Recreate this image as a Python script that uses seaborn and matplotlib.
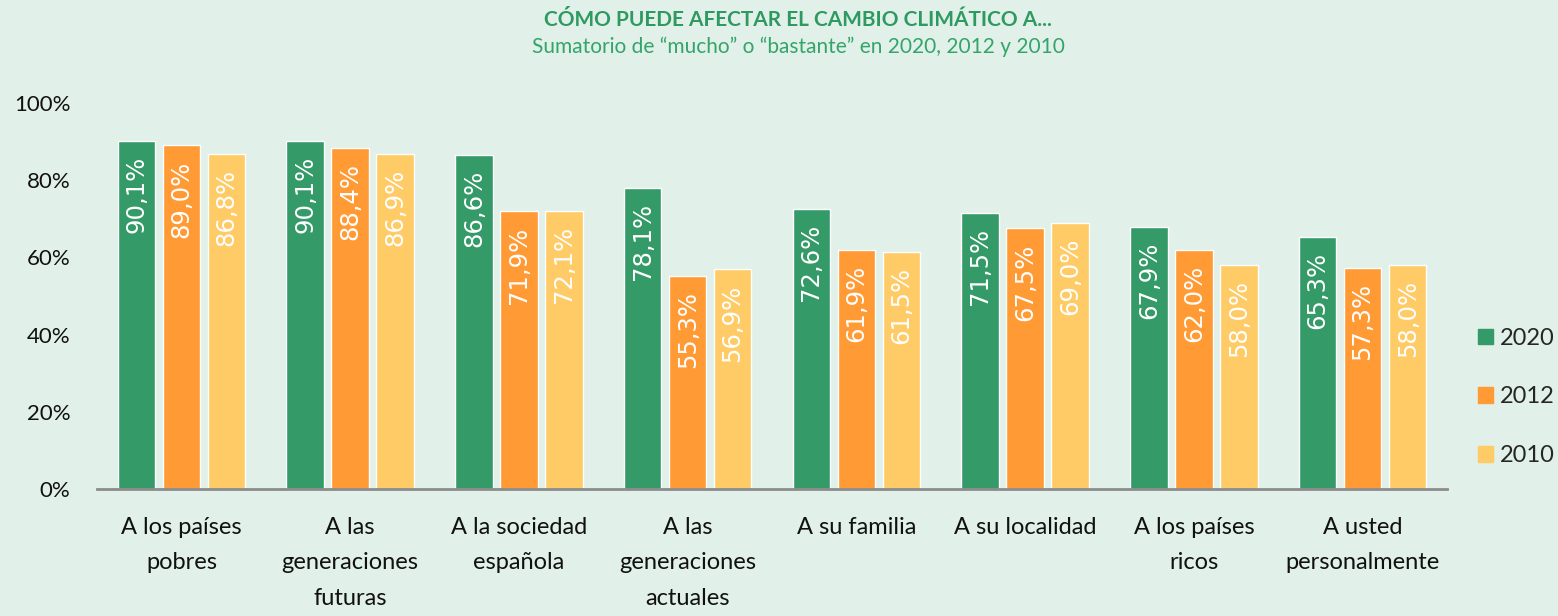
import pandas as pd
import matplotlib.pyplot as plt
import seaborn as sns

# Data
CATEGORIES = [
    "A los países\npobres",
    "A las\ngeneraciones\nfuturas",
    "A la sociedad\nespañola",
    "A las\ngeneraciones\nactuales",
    "A su familia",
    "A su localidad",
    "A los países\nricos",
    "A usted\npersonalmente",
]
YEARS = ["2020", "2012", "2010"]
VALUES_2020 = [90.1, 90.1, 86.6, 78.1, 72.6, 71.5, 67.9, 65.3]
VALUES_2012 = [89.0, 88.4, 71.9, 55.3, 61.9, 67.5, 62.0, 57.3]
VALUES_2010 = [86.8, 86.9, 72.1, 56.9, 61.5, 69.0, 58.0, 58.0]
Y_TICKS = [0, 20, 40, 60, 80, 100]

COLORS = {"2020": "#349A68", "2012": "#FF9A35", "2010": "#FFCB66"}
BG = "#E1F0E8"

df = pd.DataFrame({
    "categoria": CATEGORIES * 3,
    "year": [y for y in YEARS for _ in CATEGORIES],
    "valor": VALUES_2020 + VALUES_2012 + VALUES_2010,
})

sns.set_style("white")
plt.rcParams["font.family"] = ["Lato", "DejaVu Sans"]

fig = plt.figure(figsize=(15.58, 6.16), dpi=100, facecolor=BG)
ax = fig.add_axes([97 / 1558, 1 - 489 / 616, 1350 / 1558, 386 / 616])
ax.set_facecolor(BG)

sns.barplot(
    data=df, x="categoria", y="valor", hue="year", hue_order=YEARS,
    palette=COLORS, order=CATEGORIES, width=0.8, gap=0.17,
    saturation=1, ax=ax, legend=False,
)

# value labels, rotated, inside the top of each bar
for container in ax.containers:
    for bar in container:
        h = bar.get_height()
        ax.annotate(
            f"{h:.1f}%".replace(".", ","),
            (bar.get_x() + bar.get_width() / 2, h),
            xytext=(0, -15), textcoords="offset pixels",
            rotation=90, ha="center", va="top", color="white",
            fontsize=17.5, family="DejaVu Sans",
        )

ax.set_xlim(-0.5, len(CATEGORIES) - 0.5)
ax.set_ylim(0, 100)
ax.set_yticks(Y_TICKS)
ax.set_yticklabels([f"{t}%" for t in Y_TICKS], fontsize=16, color="#111111")
ax.set_xticks(range(len(CATEGORIES)))
ax.set_xticklabels(CATEGORIES, fontsize=17, color="#111111", linespacing=1.85)
ax.tick_params(axis="both", length=0)
ax.tick_params(axis="x", pad=20)
ax.tick_params(axis="y", pad=19)
ax.set_xlabel("")
ax.set_ylabel("")

for side in ["top", "right", "left"]:
    ax.spines[side].set_visible(False)
ax.spines["bottom"].set_color("#8C8C8C")
ax.spines["bottom"].set_linewidth(2)

handles = [plt.Rectangle((0, 0), 1, 1, color=COLORS[y]) for y in YEARS]
fig.legend(
    handles, YEARS, loc="center left",
    bbox_to_anchor=(1466 / 1558, 1 - 397 / 616), frameon=False,
    fontsize=17, handlelength=0.65, handleheight=0.65,
    handletextpad=0.3, labelspacing=1.6, borderpad=0,
)

fig.text(0.5123, 1 - 20 / 616, "CÓMO PUEDE AFECTAR EL CAMBIO CLIMÁTICO A...",
         ha="center", va="center", fontsize=15, fontweight="bold",
         color="#2E9A62")
fig.text(0.5123, 1 - 47 / 616,
         "Sumatorio de “mucho” o “bastante” en 2020, 2012 y 2010",
         ha="center", va="center", fontsize=15, color="#34A56A")

fig.savefig("out.png", dpi=100, facecolor=BG)
